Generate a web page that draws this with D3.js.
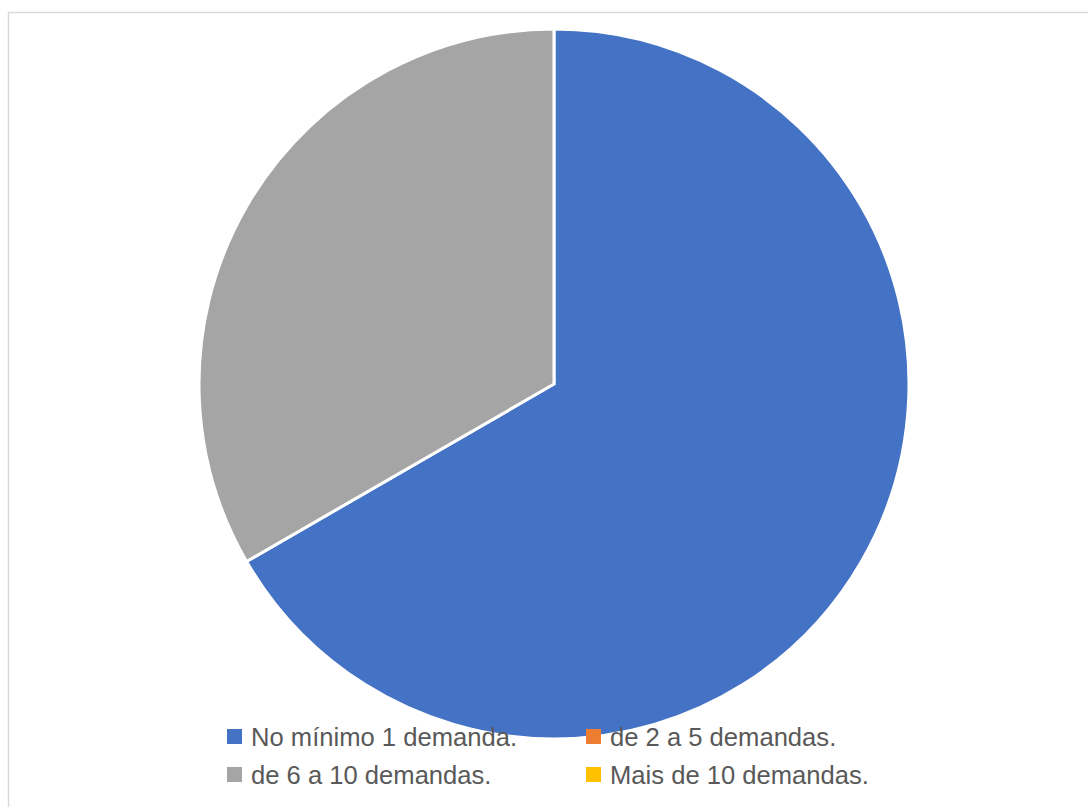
<!DOCTYPE html>
<html><head><meta charset="utf-8">
<script src="https://cdn.jsdelivr.net/npm/d3@7"></script>
<style>body{margin:0;background:#fff}svg{display:block}</style>
</head><body>
<svg id="c" width="1088" height="807"></svg>
<script>
const categories = ["No mínimo 1 demanda.", "de 2 a 5 demandas.", "de 6 a 10 demandas.", "Mais de 10 demandas."];
const values = [2, 0, 1, 0];
const colors = ["#4472C4", "#ED7D31", "#A5A5A5", "#FFC000"];

const svg = d3.select("#c");
svg.append("rect").attr("x", 8.5).attr("y", 12.5).attr("width", 1100).attr("height", 820)
  .attr("fill", "#fff").attr("stroke", "#d9d9d9").attr("stroke-width", 1.5);

const cx = 554, cy = 384, r = 355;
const pie = d3.pie().sort(null).value(d => d)(values);
const arc = d3.arc().innerRadius(0).outerRadius(r);
const g = svg.append("g").attr("transform", `translate(${cx},${cy})`);
g.selectAll("path").data(pie.filter(d => d.value > 0)).join("path")
  .attr("d", arc).attr("fill", d => colors[d.index])
  .attr("stroke", "#fff").attr("stroke-width", 3).attr("stroke-linejoin", "miter");

const legend = svg.append("g");
const colX = [227, 586], rowY = [746, 784];
categories.forEach((c, i) => {
  const x = colX[i % 2], y = rowY[Math.floor(i / 2)];
  legend.append("rect").attr("x", x).attr("y", y - 17).attr("width", 15).attr("height", 15).attr("fill", colors[i]);
  legend.append("text").attr("x", x + 24).attr("y", y)
    .attr("font-family", "Liberation Sans, Arial, sans-serif").attr("font-size", 25.6)
    .attr("fill", "#595959").text(c);
});
</script>
</body></html>
